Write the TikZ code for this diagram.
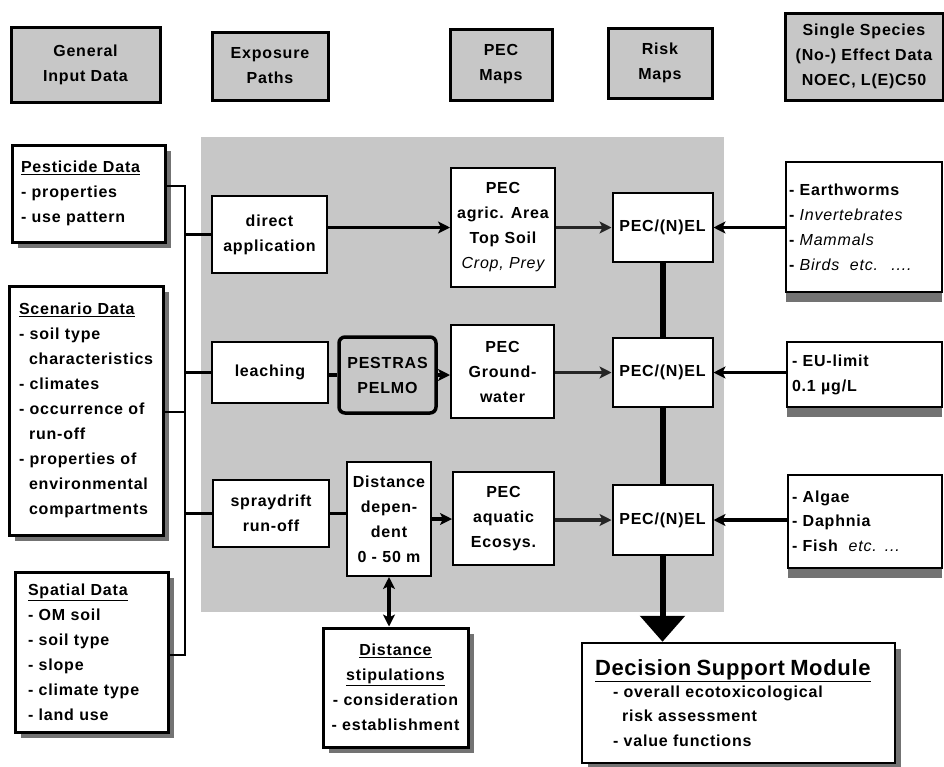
\documentclass[tikz,border=0pt]{standalone}
\usepackage{fontspec}
\setmainfont{Liberation Sans}[LetterSpace=5]
\usetikzlibrary{arrows.meta,shadows}
\newcommand\bodyfont{\fontsize{16}{25}\selectfont\bfseries}
\newcommand\lite[1]{{\mdseries\itshape #1}}
\definecolor{panel}{gray}{0.78}
\definecolor{shade}{gray}{0.45}
\begin{document}
\begin{tikzpicture}[x=1pt,y=-1pt,
  every node/.style={font=\bodyfont, inner sep=0pt},
  hdr/.style={draw, line width=3pt, fill=panel, align=center},
  wbox/.style={draw, line width=2pt, fill=white, align=center},
  lbox/.style={draw, line width=3pt, fill=white, align=left,
    drop shadow={shadow xshift=6pt, shadow yshift=-6pt, fill=shade, opacity=1}},
  rbox/.style={draw, line width=2.5pt, fill=white, align=left,
    drop shadow={shadow xshift=0pt, shadow yshift=-10pt, fill=shade, opacity=1}},
  model/.style={draw, line width=3.5pt, rounded corners=6pt, fill=panel, align=center},
  link/.style={line width=2.8pt},
  flow/.style={line width=3.2pt, -{Stealth[length=12pt, width=12pt, inset=3pt]}},
  spine/.style={line width=6pt}]
\useasboundingbox (0,0) rectangle (944,766);

% shaded working area
\fill[panel] (201,137) rectangle (724,612);

% column headers
\node[hdr, minimum width=149pt, minimum height=75pt] (hgen) at (85.5,64.5) {General\\Input Data};
\node[hdr, minimum width=116pt, minimum height=68pt] (hexp) at (270,66) {Exposure\\Paths};
\node[hdr, minimum width=102pt, minimum height=71pt] (hpec) at (501,64.5) {PEC\\Maps};
\node[hdr, minimum width=104pt, minimum height=70pt] (hrisk) at (660,63) {Risk\\Maps};
\node[hdr, minimum width=158pt, minimum height=87pt] (hspec) at (864,56.5) {Single Species\\(No-) Effect Data\\NOEC, L(E)C50};

% input data
\node[lbox, text width=135pt, inner xsep=9pt, minimum height=97pt] (pest) at (88.5,193.5)
  {\underline{Pesticide Data}\\- properties\\- use pattern};
\node[lbox, text width=134pt, inner xsep=10pt, minimum height=249pt] (scen) at (86,410.5)
  {\underline{Scenario Data}\\- soil type\\\hspace*{10pt}characteristics\\- climates\\- occurrence of\\\hspace*{10pt}run-off\\- properties of\\\hspace*{10pt}environmental\\\hspace*{10pt}compartments};
\node[lbox, text width=127pt, inner xsep=13pt, minimum height=160pt] (spat) at (91.5,652)
  {\underline{Spatial Data}\\- OM soil\\- soil type\\- slope\\- climate type\\- land use};

% exposure paths
\node[wbox, minimum width=115pt, minimum height=77pt] (dir) at (269.5,234.5) {direct\\application};
\node[wbox, minimum width=116pt, minimum height=61pt] (leach) at (270,372.5) {leaching};
\node[wbox, minimum width=116pt, minimum height=67pt] (spray) at (271,513.5) {spraydrift\\run-off};
\node[model, minimum width=97pt, minimum height=76pt] (pestras) at (387.5,375) {PESTRAS\\PELMO};
\node[wbox, minimum width=84pt, minimum height=114pt] (dist) at (389,519) {Distance\\depen-\\dent\\0 - 50 m};

% PEC maps
\node[wbox, minimum width=104pt, minimum height=119pt] (pecag) at (503,227.5) {PEC\\agric. Area\\Top Soil\\\lite{Crop, Prey}};
\node[wbox, minimum width=103pt, minimum height=93pt] (pecgw) at (502.5,371.5) {PEC\\Ground-\\water};
\node[wbox, minimum width=101pt, minimum height=93pt] (pecaq) at (503.5,518.5) {PEC\\aquatic\\Ecosys.};

% risk maps
\node[wbox, minimum width=100pt, minimum height=69pt] (r1) at (662.5,227.5) {PEC/(N)EL};
\node[wbox, minimum width=100pt, minimum height=69pt] (r2) at (662.5,372.5) {PEC/(N)EL};
\node[wbox, minimum width=100pt, minimum height=70pt] (r3) at (662.5,520) {PEC/(N)EL};

% effect data
\node[rbox, text width=150pt, inner xsep=3pt, minimum height=130pt] (ew) at (864,227)
  {- Earthworms\\- \lite{Invertebrates}\\- \lite{Mammals}\\- \lite{Birds\ \ etc. \ ....}};
\node[rbox, text width=145pt, inner xsep=5pt, minimum height=65pt] (eu) at (864.5,374.5)
  {- EU-limit\\0.1 µg/L};
\node[rbox, text width=146pt, inner xsep=4pt, minimum height=93pt] (alg) at (865,521.5)
  {\fontsize{16}{24}\selectfont - Algae\\- Daphnia\\- Fish\ \ \lite{etc. ...}};

% distance stipulations and decision support
\node[lbox, align=center, minimum width=145pt, minimum height=119pt] (stip) at (395.5,687.5)
  {\underline{Distance}\\\underline{stipulations}\\- consideration\\- establishment};
\node[lbox, line width=2.5pt, text width=287pt, inner xsep=13pt, minimum height=120pt] (dsm) at (738.5,703)
  {{\fontsize{22}{28}\selectfont\addfontfeature{LetterSpace=3}\underline{Decision Support Module}}\\[-2pt]
   \fontsize{16}{24}\selectfont\hspace*{18pt}- overall ecotoxicological\\\hspace*{27pt}risk assessment\\\hspace*{18pt}- value functions};

% input data trunk
\coordinate (t1) at (185,186);
\coordinate (t2) at (185,412);
\coordinate (t3) at (185,655);
\draw[link] (pest.east |- t1) -- (t1) -- (t3) -- (spat.east |- t3);
\draw[link] (scen.east |- t2) -- (t2);
\draw[link] (t1 |- dir.west) -- (dir.west);
\draw[link] (t1 |- leach.west) -- (leach.west);
\draw[link] (t1 |- spray.west) -- (spray.west);

% exposure flows
\draw[flow] (dir.east |- pecag.west) -- (pecag.west);
\draw[link, line width=3.2pt] (leach.east |- pestras.west) -- (pestras.west);
\draw[flow] (pestras.east) -- (pecgw.west |- pestras.east);
\draw[link, line width=3.2pt] (spray.east) -- (dist.west |- spray.east);
\draw[flow] (dist.east) -- (pecaq.west |- dist.east);
\draw[<->, line width=3.5pt, >={Stealth[length=12pt, width=12pt, inset=3pt]}] (dist.south) -- (dist.south |- stip.north);

% PEC to risk
\draw[flow, black!85] (pecag.east) -- (r1.west);
\draw[flow, black!85] (pecgw.east |- r2.west) -- (r2.west);
\draw[flow, black!85] (pecaq.east |- r3.west) -- (r3.west);

% effect data to risk
\draw[flow] (ew.west |- r1.east) -- (r1.east);
\draw[flow] (eu.west |- r2.east) -- (r2.east);
\draw[flow] (alg.west |- r3.east) -- (r3.east);

% risk spine to decision support
\draw[spine] (r1.south) -- (r2.north);
\draw[spine] (r2.south) -- (r3.north);
\draw[spine, -{Triangle[length=26pt, width=44pt]}] (r3.south) -- (r3.south |- dsm.north);
\end{tikzpicture}
\end{document}
